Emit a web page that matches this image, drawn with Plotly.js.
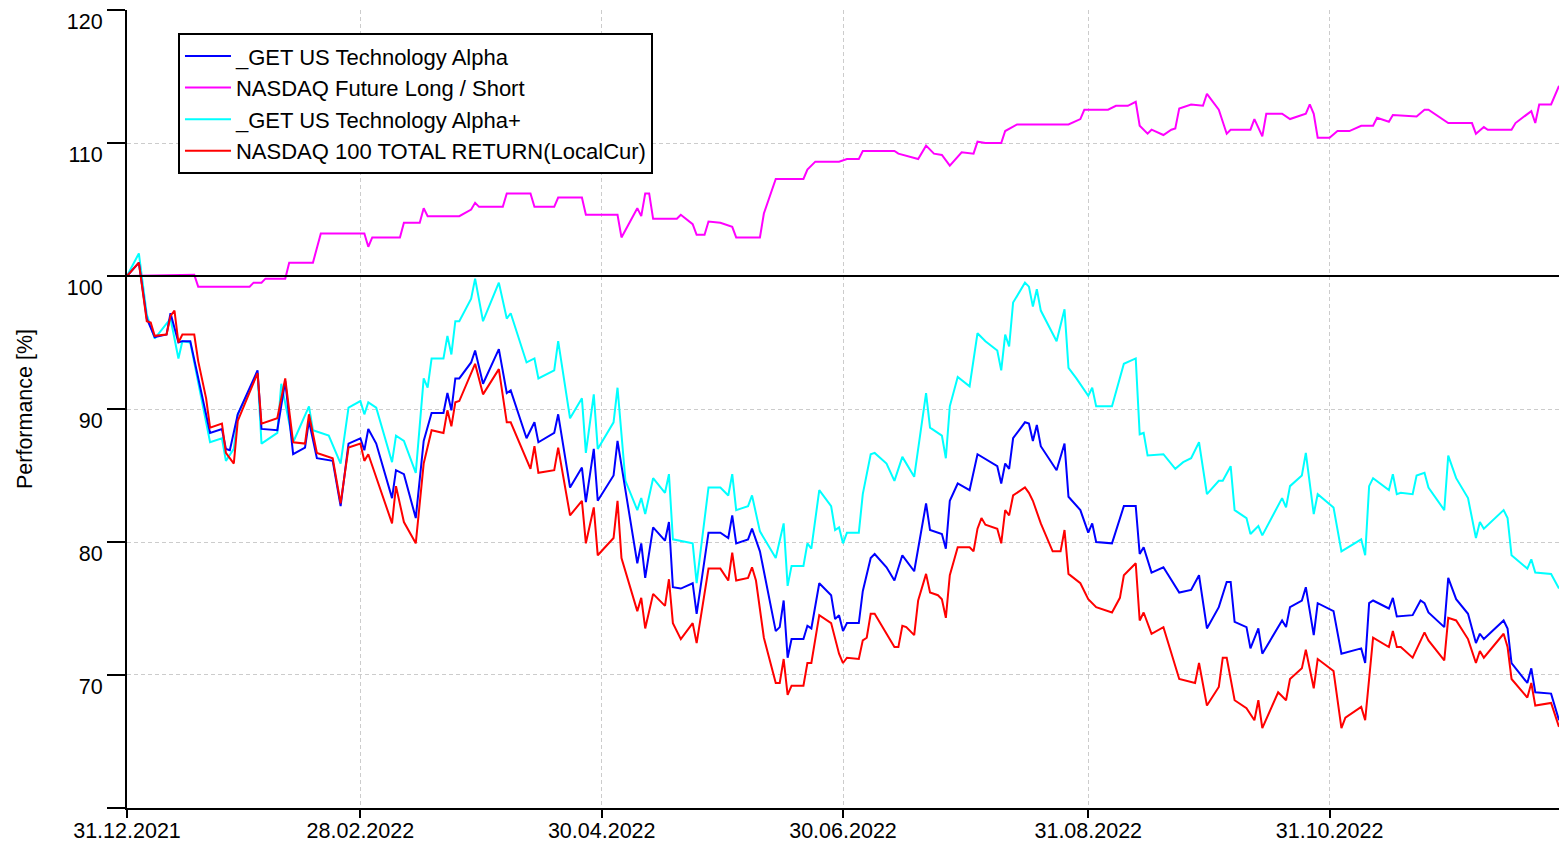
<!DOCTYPE html>
<html>
<head>
<meta charset="utf-8">
<script src="https://cdn.plot.ly/plotly-3.0.1.min.js"></script>
<style>
  html, body { margin: 0; padding: 0; background: #ffffff; }
  #chart { width: 1559px; height: 844px; }
</style>
</head>
<body>
<div id="chart"></div>
<script>
// ---- Data (x = calendar days after 31.12.2021, y = performance in %) ----
const startDate = '2021-12-31';
const endDay = 362;

const seriesNames = [
  '_GET US Technology Alpha',
  'NASDAQ Future Long / Short',
  '_GET US Technology Alpha+',
  'NASDAQ 100 TOTAL RETURN(LocalCur)'
];

const blueDays = [0,3,5,7,10,11,13,14,16,21,24,25,26,28,33,34,38,40,42,45,46,48,52,54,56,59,60,61,63,67,68,70,73,75,77,80,81,82,83,84,87,88,90,94,96,97,101,103,104,108,109,112,115,116,118,119,123,124,126,129,130,131,133,136,137,138,140,143,144,147,150,152,153,154,157,158,160,164,165,166,167,168,171,172,173,175,178,179,180,181,182,185,186,188,189,192,194,196,199,202,203,206,207,208,210,213,215,220,221,222,223,224,227,228,229,230,231,235,237,238,241,243,244,245,249,251,252,255,256,257,259,262,266,269,271,273,276,278,279,280,283,284,286,287,292,293,294,297,298,300,301,305,307,312,313,314,315,319,320,321,325,327,328,329,333,334,336,339,341,342,343,348,349,350,354,355,356,360,362];
const blueVals = [100,101.0,96.8,95.4,95.6,97.2,95.0,95.1,95.1,88.2,88.5,87.0,86.9,89.6,92.9,88.5,88.4,92.1,86.6,87.1,89.1,86.3,86.1,82.7,87.4,87.8,86.9,88.5,87.4,83.3,85.4,85.1,81.8,87.6,89.7,89.7,91.2,89.9,92.3,92.3,93.5,94.4,91.9,94.5,91.2,91.4,87.8,89.0,87.5,88.2,89.6,84.1,85.6,83.0,87.0,83.1,85.0,87.6,83.9,78.4,79.9,77.3,81.1,80.1,81.5,76.6,76.5,76.9,74.6,80.7,80.7,80.3,82.0,79.9,80.2,81.0,79.3,73.3,73.6,75.6,71.3,72.7,72.7,73.7,73.5,76.9,76.0,74.2,74.5,73.3,73.9,73.9,76.3,78.8,79.1,78.1,77.1,79.0,77.8,82.9,80.9,80.6,79.5,83.1,84.4,83.9,86.6,85.7,84.4,85.9,85.5,87.8,89.0,88.9,87.6,88.8,87.2,85.4,87.4,83.4,82.4,80.7,81.4,80.0,79.9,81.8,82.7,82.7,79.1,79.6,77.7,78.1,76.2,76.4,77.5,73.5,75.1,77.0,77.0,74.0,73.6,72.0,73.5,71.6,74.1,73.6,75.1,75.6,76.6,73.0,75.4,74.8,71.6,72.0,70.9,75.4,75.6,75.0,75.8,74.4,74.5,75.6,75.4,74.7,73.6,77.3,75.7,74.6,72.4,73.1,72.7,74.1,73.5,70.9,69.4,70.5,68.7,68.6,66.6];

const magentaDays = [0,12,17,18,31,32,34,35,40,41,47,49,60,61,62,69,70,74,75,76,84,87,88,89,95,96,102,103,108,109,115,116,124,125,129,130,131,132,133,139,140,143,144,146,147,150,153,154,160,161,164,171,172,174,180,182,185,186,194,195,200,202,204,206,208,211,214,215,217,221,222,225,238,241,242,248,250,253,255,256,258,259,262,264,265,266,269,272,273,276,278,279,284,285,287,288,292,294,298,299,300,301,304,306,309,312,315,316,319,320,326,328,329,334,340,341,343,344,350,351,355,356,357,360,362];
const magentaVals = [100,100.1,100.1,99.2,99.2,99.5,99.5,99.8,99.8,101.0,101.0,103.2,103.2,102.2,102.9,102.9,104.0,104.0,105.1,104.5,104.5,105.0,105.5,105.2,105.2,106.2,106.2,105.2,105.2,105.9,105.9,104.6,104.6,102.9,105.1,104.5,106.2,106.2,104.3,104.3,104.6,103.9,103.1,103.1,104.1,104.0,103.7,102.9,102.9,104.7,107.3,107.3,108.0,108.6,108.6,108.8,108.8,109.4,109.4,109.2,108.8,109.8,109.2,109.1,108.3,109.3,109.2,110.1,110.0,110.0,110.9,111.4,111.4,111.8,112.5,112.5,112.8,112.8,113.1,111.3,110.7,111.0,110.6,111.0,111.1,112.6,112.9,112.8,113.7,112.5,110.7,111.0,111.0,111.8,110.5,112.2,112.2,111.8,112.2,112.9,112.2,110.4,110.4,110.9,110.9,111.3,111.3,111.9,111.6,112.1,112.0,112.5,112.5,111.5,111.5,110.7,111.2,111.0,111.0,111.5,112.4,111.5,112.9,112.9,114.3];

const cyanDays = [0,3,5,7,11,13,14,16,21,24,25,27,28,33,34,38,39,42,46,47,51,54,56,59,60,61,63,67,68,70,73,75,76,77,80,81,82,83,84,87,88,90,94,96,97,101,103,104,108,109,112,115,116,118,119,123,124,126,129,130,131,133,136,137,138,140,143,144,147,150,152,153,154,157,158,160,164,166,167,168,171,172,173,175,178,179,180,181,182,185,186,188,189,192,194,196,199,202,203,206,207,208,210,213,215,217,220,221,222,223,224,227,228,229,230,231,235,237,238,240,243,244,245,249,251,252,255,256,257,258,262,265,267,269,271,273,276,277,279,280,283,284,286,287,292,293,294,297,298,300,301,305,307,312,313,314,315,319,320,321,322,325,326,328,329,333,334,336,339,341,342,343,348,349,350,354,355,356,360,362];
const cyanVals = [100,101.7,97.1,95.3,96.8,93.8,95.1,95.0,87.5,87.8,86.1,87.0,89.6,92.7,87.4,88.2,91.9,87.5,90.2,88.4,88.0,85.9,90.1,90.6,89.6,90.5,90.1,86.0,88.0,87.6,85.2,92.3,91.6,93.8,93.8,95.5,94.1,96.6,96.6,98.3,99.8,96.6,99.5,96.8,97.2,93.5,93.8,92.3,92.9,95.1,89.3,90.8,86.7,91.1,87.0,89.0,91.6,84.6,82.4,83.3,82.1,84.8,83.7,85.1,80.2,80.1,79.9,76.9,84.1,84.1,83.5,85.1,82.4,82.7,83.5,80.8,78.8,81.4,76.7,78.2,78.2,79.9,79.5,83.9,82.7,80.9,81.1,79.9,80.7,80.7,83.6,86.6,86.7,85.9,84.6,86.4,84.9,91.2,88.6,88.0,86.3,90.2,92.4,91.7,95.7,95.1,94.4,92.9,95.6,94.7,98.0,99.5,99.2,97.7,99.0,97.4,95.1,97.5,93.1,92.3,91.0,91.6,90.2,90.2,92.3,93.4,93.8,88.1,88.2,86.5,86.6,85.5,86.0,86.3,87.5,83.6,84.6,84.6,85.7,82.4,81.8,80.6,81.2,80.5,83.3,82.6,84.2,85.0,86.7,82.1,83.6,82.6,79.3,80.2,79.0,84.2,84.8,83.9,85.1,83.6,83.7,83.6,85.0,85.2,84.1,82.4,86.5,84.8,83.3,80.3,81.5,81.0,82.4,81.8,79.0,78.0,78.7,77.7,77.6,76.5];

const redDays = [0,3,5,6,7,10,11,12,13,14,17,18,20,21,24,25,27,28,33,34,38,40,42,45,46,48,52,54,56,59,60,61,67,68,70,73,75,77,80,81,82,83,84,88,90,94,96,97,102,103,104,108,109,112,115,116,118,119,123,124,125,129,130,131,133,136,137,138,140,143,144,147,150,152,153,154,157,158,159,161,164,165,166,167,168,171,172,173,175,178,180,181,182,185,186,187,188,189,194,195,196,197,199,200,202,203,205,206,207,208,210,213,214,215,216,217,220,221,222,223,224,227,228,229,231,234,236,237,238,241,243,245,249,251,252,255,256,257,259,262,266,270,271,273,276,277,278,280,283,285,286,287,291,293,294,297,298,300,301,305,307,308,312,313,315,319,320,321,322,325,328,329,333,334,336,339,341,342,343,348,349,350,354,355,356,360,362];
const redVals = [100,101.0,96.6,96.5,95.5,95.6,97.0,97.4,95.0,95.6,95.6,93.6,90.8,88.6,88.9,86.7,85.9,89.1,92.7,88.9,89.3,92.3,87.5,87.4,89.6,86.7,86.3,82.9,87.1,87.4,86.1,86.6,81.4,84.2,81.5,79.9,85.9,88.4,88.2,89.9,88.7,90.5,90.6,93.4,91.1,93.0,89.0,89.0,85.5,87.2,85.2,85.4,87.1,82.0,83.1,79.9,82.6,79.0,80.3,83.1,78.8,74.8,75.8,73.5,76.1,75.2,77.2,73.9,72.7,73.9,72.4,78.0,78.0,77.1,79.2,77.1,77.3,78.1,77.1,72.8,69.4,69.4,71.2,68.5,69.2,69.2,70.9,70.9,74.5,73.9,71.6,70.9,71.3,71.2,72.6,72.8,74.6,74.6,72.1,72.1,73.7,73.6,73.0,75.6,77.6,76.2,76.0,75.7,74.3,77.5,79.6,79.6,79.3,81.0,81.8,81.3,81.0,79.9,82.4,82.0,83.5,84.1,83.7,83.1,81.4,79.3,79.3,80.9,77.6,76.9,75.7,75.1,74.7,75.8,77.5,78.4,74.1,74.7,73.1,73.6,69.7,69.4,70.9,67.7,69.1,71.3,71.3,68.1,67.5,66.6,68.1,66.0,68.7,68.1,69.7,70.5,71.9,69.0,71.2,70.3,66.0,66.8,67.6,66.6,72.8,72.1,73.3,72.1,72.1,71.3,73.2,72.6,71.1,74.3,74.1,72.7,70.9,71.8,71.3,73.1,72.1,69.7,68.3,69.4,67.7,67.9,66.1];

const xTickDates = ['2021-12-31','2022-02-28','2022-04-30','2022-06-30','2022-08-31','2022-10-31'];
const xTickLabels = ['31.12.2021','28.02.2022','30.04.2022','30.06.2022','31.08.2022','31.10.2022'];
const yTickVals = [60,70,80,90,100,110,120];
const yTickLabels = ['','70','80','90','100','110','120'];
const yMin = 60, yMax = 120;
const baseline = 100;

// ---- helpers ----
const DAY = 86400000;
const t0 = Date.UTC(2021, 11, 31);
function toDate(d) { return new Date(t0 + d * DAY).toISOString().slice(0, 10); }
const endDate = toDate(endDay);

const FONT = 'Liberation Sans, Arial, sans-serif';
function line(days, vals, name, color, rank) {
  return {
    type: 'scatter', mode: 'lines', name: name,
    x: days.map(toDate), y: vals,
    line: { color: color, width: 2 },
    legendrank: rank, hoverinfo: 'skip'
  };
}

const traces = [
  line(cyanDays, cyanVals, seriesNames[2], '#00FFFF', 3),
  line(magentaDays, magentaVals, seriesNames[1], '#FF00FF', 2),
  line(blueDays, blueVals, seriesNames[0], '#0000FF', 1),
  line(redDays, redVals, seriesNames[3], '#FF0000', 4)
];

const layout = {
  width: 1559, height: 844,
  margin: { l: 127, r: 0, t: 10, b: 36, pad: 0 },
  paper_bgcolor: '#ffffff', plot_bgcolor: '#ffffff',
  font: { family: FONT, size: 21.5, color: '#000000' },
  showlegend: true,
  legend: {
    x: 0.0356, y: 0.971, xanchor: 'left', yanchor: 'top',
    bgcolor: '#ffffff', bordercolor: '#000000', borderwidth: 2,
    font: { family: FONT, size: 22, color: '#000000' },
    itemwidth: 46, tracegroupgap: 0
  },
  xaxis: {
    type: 'date', range: [startDate, endDate],
    tickmode: 'array', tickvals: xTickDates, ticktext: xTickLabels,
    showgrid: true, gridcolor: '#cccccc', gridwidth: 1, griddash: '4px,3px',
    showline: true, linecolor: '#000000', linewidth: 2,
    ticks: 'outside', ticklen: 8, tickwidth: 2, tickcolor: '#000000',
    ticklabelstandoff: -6,
    zeroline: false, fixedrange: true,
    tickfont: { family: FONT, size: 21.5, color: '#000000' }
  },
  yaxis: {
    range: [yMin - 0.001, yMax + 0.001], tickmode: 'array', tickvals: yTickVals, ticktext: yTickLabels,
    showgrid: true, gridcolor: '#cccccc', gridwidth: 1, griddash: '4px,3px',
    showline: true, linecolor: '#000000', linewidth: 2,
    ticks: 'outside', ticklen: 18, tickwidth: 2, tickcolor: '#000000',
    ticklabelshift: 11,
    zeroline: false, fixedrange: true,
    tickfont: { family: FONT, size: 21.5, color: '#000000' },
    title: { text: 'Performance [%]', font: { family: FONT, size: 21.5, color: '#000000' }, standoff: 28 }
  },
  shapes: [{
    type: 'line', xref: 'paper', x0: 0, x1: 1, yref: 'y', y0: baseline, y1: baseline,
    line: { color: '#000000', width: 2 }, layer: 'above'
  }]
};

Plotly.newPlot('chart', traces, layout, { displayModeBar: false, staticPlot: true });
</script>
</body>
</html>
